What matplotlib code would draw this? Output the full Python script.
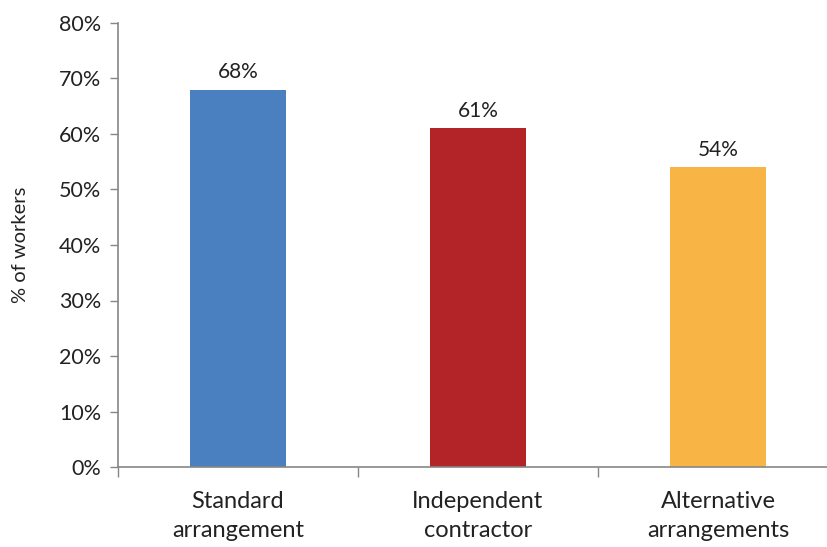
import numpy as np
import matplotlib.pyplot as plt
from matplotlib.ticker import FuncFormatter

plt.rcParams['font.family'] = ['Lato', 'DejaVu Sans']

categories = ["Standard\narrangement", "Independent\ncontractor", "Alternative\narrangements"]
shares = [68, 61, 54]
colors = ["#4A80C0", "#B22428", "#F8B445"]

fig = plt.figure(figsize=(8.28, 5.47), dpi=100)
ax = fig.add_axes([118/828, 1 - 467/547, 720/828, 444/547])

x = np.arange(len(categories))
ax.bar(x, shares, width=0.4, color=colors, zorder=2)

for xi, v in zip(x, shares):
    ax.text(xi, v + 1.4, f"{v}%", ha='center', va='bottom', fontsize=15, color='#222222')

ax.set_xlim(-0.5, 2.5)
ax.set_ylim(0, 80)
ax.set_yticks(np.arange(0, 81, 10))
ax.yaxis.set_major_formatter(FuncFormatter(lambda v, _: f"{v:.0f}%"))
ax.tick_params(axis='y', labelsize=15.5, length=6, width=1, color='#868686', pad=6, labelcolor='#222222')

# category labels at centres, tick marks between categories
ax.set_xticks(x)
ax.set_xticklabels(categories, fontsize=17, color='#222222', linespacing=1.5)
ax.tick_params(axis='x', which='major', length=0, pad=17)
ax.set_xticks([-0.5, 0.5, 1.5], minor=True)
ax.tick_params(axis='x', which='minor', length=7, width=1, color='#868686')

ax.set_ylabel("% of workers", fontsize=14.5, color='#222222', labelpad=22)

for s in ['top', 'right']:
    ax.spines[s].set_visible(False)
for s in ['left', 'bottom']:
    ax.spines[s].set_color('#868686')
    ax.spines[s].set_linewidth(1.2)

fig.savefig("out.png", dpi=100)
